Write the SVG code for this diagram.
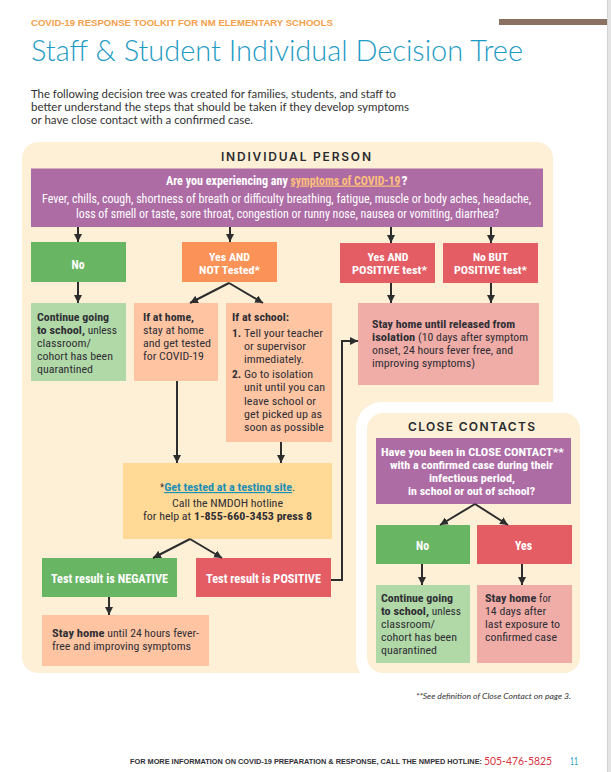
<svg xmlns="http://www.w3.org/2000/svg" width="611" height="772" viewBox="0 0 611 772">
<defs>
<style>
.b{font-family:"Roboto Condensed","Liberation Sans Narrow","Liberation Sans",Arial,sans-serif;font-size:11.5px;fill:#2f2f35}
.w{fill:#fff}
.bo{font-weight:700}
.c{text-anchor:middle}
.l{font-size:12.5px}
.hd{font-family:Inter,"Liberation Sans",Arial,sans-serif;font-weight:600;font-size:12px;fill:#2a2a2e;text-anchor:middle}
.ln{stroke:#2d2d2d;stroke-width:2;fill:none}
.purple{fill:#ae6ca5}
.green{fill:#68b563}
.lgreen{fill:#b1d9a7}
.orange{fill:#fb9257}
.red{fill:#e45d64}
.pink{fill:#f0aca7}
.peach{fill:#ffc5a3}
.yellow{fill:#ffd995}
.cream{fill:#fdf0d6}
</style>
<marker id="ah" viewBox="0 0 10 10" refX="10" refY="5" markerWidth="8" markerHeight="8" markerUnits="userSpaceOnUse" orient="auto"><path d="M0,0 L10,5 L0,10 z" fill="#2d2d2d"/></marker>
</defs>
<rect x="0" y="0" width="611" height="772" fill="#fff"/>
<rect x="607" y="0" width="4" height="772" fill="#e4e4e4"/>
<rect x="607" y="0" width="1" height="772" fill="#d2d2d2"/>
<rect x="499" y="19" width="108" height="6" fill="#8a7160"/>
<text x="31" y="25.5" font-family="'Liberation Sans',Arial,sans-serif" font-weight="700" font-size="8.5" fill="#f5a04a" textLength="302" lengthAdjust="spacingAndGlyphs">COVID-19 RESPONSE TOOLKIT FOR NM ELEMENTARY SCHOOLS</text>
<text x="31" y="61" font-family="Lato,'Open Sans',sans-serif" font-weight="300" font-size="29" fill="#1d9bc4" textLength="492" lengthAdjust="spacingAndGlyphs">Staff &amp; Student Individual Decision Tree</text>
<g font-family="Lato,'Open Sans',sans-serif" font-size="10.5" fill="#333">
<text x="31" y="98" textLength="365" lengthAdjust="spacingAndGlyphs">The following decision tree was created for families, students, and staff to</text>
<text x="31" y="111" textLength="378" lengthAdjust="spacingAndGlyphs">better understand the steps that should be taken if they develop symptoms</text>
<text x="31" y="124" textLength="222" lengthAdjust="spacingAndGlyphs">or have close contact with a confirmed case.</text>
</g>
<g id="panel-individual">
<rect class="cream" x="22" y="142" width="531" height="531" rx="16"/>
<text class="hd" x="296" y="160.5" textLength="150" lengthAdjust="spacing">INDIVIDUAL PERSON</text>
</g>
<g id="panel-close">
<rect x="356" y="402" width="236" height="283" rx="26" fill="#fff"/>
<rect class="cream" x="367" y="413" width="213" height="260" rx="16"/>
<text class="hd" x="471.5" y="430.5" textLength="127" lengthAdjust="spacing">CLOSE CONTACTS</text>
</g>
<g id="q-symptoms">
<rect class="purple" x="31" y="168.5" width="512" height="58.5"/>
<text class="b l w bo" x="166" y="184.5" textLength="121.8" lengthAdjust="spacingAndGlyphs">Are you experiencing any</text>
<text class="b l bo" x="290.5" y="184.5" style="fill:#fcc07c" text-decoration="underline" textLength="110" lengthAdjust="spacingAndGlyphs">symptoms of COVID-19</text>
<text class="b l w bo" x="401.5" y="184.5" textLength="6" lengthAdjust="spacingAndGlyphs">?</text>
<text class="b w c" x="286.5" y="203" style="font-size:12px" textLength="489" lengthAdjust="spacingAndGlyphs">Fever, chills, cough, shortness of breath or difficulty breathing, fatigue, muscle or body aches, headache,</text>
<text class="b w c" x="287.5" y="217.5" style="font-size:12px" textLength="423" lengthAdjust="spacingAndGlyphs">loss of smell or taste, sore throat, congestion or runny nose, nausea or vomiting, diarrhea?</text>
</g>
<g id="n-no">
<rect class="green" x="31" y="242" width="95" height="40"/>
<text class="b l w bo c" x="78" y="268.5" textLength="13" lengthAdjust="spacingAndGlyphs">No</text>
</g>
<g id="n-yes-not-tested">
<rect class="orange" x="182" y="242" width="95" height="40"/>
<text class="b w bo c" x="229.5" y="261" textLength="41" lengthAdjust="spacingAndGlyphs">Yes AND</text>
<text class="b w bo c" x="229.5" y="274" textLength="61" lengthAdjust="spacingAndGlyphs">NOT Tested*</text>
</g>
<g id="n-yes-positive">
<rect class="red" x="340" y="243" width="95" height="40"/>
<text class="b w bo c" x="388" y="261" textLength="41" lengthAdjust="spacingAndGlyphs">Yes AND</text>
<text class="b w bo c" x="389.5" y="274" textLength="75" lengthAdjust="spacingAndGlyphs">POSITIVE test*</text>
</g>
<g id="n-no-positive">
<rect class="red" x="443" y="243" width="95" height="40"/>
<text class="b w bo c" x="490.5" y="261" textLength="35" lengthAdjust="spacingAndGlyphs">No BUT</text>
<text class="b w bo c" x="490.5" y="274" textLength="73" lengthAdjust="spacingAndGlyphs">POSITIVE test*</text>
</g>
<g id="n-continue">
<rect class="lgreen" x="31" y="303" width="95" height="78"/>
<text class="b bo" x="37" y="321" textLength="72" lengthAdjust="spacingAndGlyphs">Continue going</text>
<text class="b bo" x="37" y="334" textLength="47.9" lengthAdjust="spacingAndGlyphs">to school,</text>
<text class="b" x="87.7" y="334" textLength="29.3" lengthAdjust="spacingAndGlyphs">unless</text>
<text class="b" x="37" y="347" textLength="54" lengthAdjust="spacingAndGlyphs">classroom/</text>
<text class="b" x="37" y="360" textLength="76" lengthAdjust="spacingAndGlyphs">cohort has been</text>
<text class="b" x="37" y="373" textLength="56" lengthAdjust="spacingAndGlyphs">quarantined</text>
</g>
<g id="n-at-home">
<rect class="peach" x="134" y="303" width="84" height="78"/>
<text class="b bo" x="143" y="321" textLength="51" lengthAdjust="spacingAndGlyphs">If at home,</text>
<text class="b" x="143" y="334" textLength="61" lengthAdjust="spacingAndGlyphs">stay at home</text>
<text class="b" x="143" y="347" textLength="68" lengthAdjust="spacingAndGlyphs">and get tested</text>
<text class="b" x="143" y="360" textLength="61" lengthAdjust="spacingAndGlyphs">for COVID-19</text>
</g>
<g id="n-at-school">
<rect class="peach" x="226" y="303" width="106" height="139"/>
<text class="b bo" x="232" y="321" textLength="57" lengthAdjust="spacingAndGlyphs">If at school:</text>
<text class="b bo" x="232" y="337">1.</text>
<text class="b" x="244" y="337" textLength="79" lengthAdjust="spacingAndGlyphs">Tell your teacher</text>
<text class="b" x="244" y="350" textLength="62" lengthAdjust="spacingAndGlyphs">or supervisor</text>
<text class="b" x="244" y="363" textLength="60" lengthAdjust="spacingAndGlyphs">immediately.</text>
<text class="b bo" x="232" y="378">2.</text>
<text class="b" x="244" y="378" textLength="69" lengthAdjust="spacingAndGlyphs">Go to isolation</text>
<text class="b" x="244" y="391" textLength="81" lengthAdjust="spacingAndGlyphs">unit until you can</text>
<text class="b" x="244" y="404.5" textLength="72" lengthAdjust="spacingAndGlyphs">leave school or</text>
<text class="b" x="244" y="417.5" textLength="78" lengthAdjust="spacingAndGlyphs">get picked up as</text>
<text class="b" x="244" y="430.5" textLength="80" lengthAdjust="spacingAndGlyphs">soon as possible</text>
</g>
<g id="n-isolation">
<rect class="pink" x="358" y="303" width="181" height="82"/>
<text class="b bo" x="372" y="328" textLength="143" lengthAdjust="spacingAndGlyphs">Stay home until released from</text>
<text class="b bo" x="372" y="341" textLength="43.2" lengthAdjust="spacingAndGlyphs">isolation</text>
<text class="b" x="418.1" y="341" textLength="109.9" lengthAdjust="spacingAndGlyphs">(10 days after symptom</text>
<text class="b" x="372" y="354" textLength="141" lengthAdjust="spacingAndGlyphs">onset, 24 hours fever free, and</text>
<text class="b" x="372" y="367" textLength="103" lengthAdjust="spacingAndGlyphs">improving symptoms)</text>
</g>
<g id="n-testing">
<rect class="yellow" x="123" y="463" width="209" height="76"/>
<text class="b" x="160" y="491" textLength="4" lengthAdjust="spacingAndGlyphs">*</text>
<text class="b bo" x="164.2" y="491" style="fill:#1b8fb5" text-decoration="underline" textLength="127.9" lengthAdjust="spacingAndGlyphs">Get tested at a testing site</text>
<text class="b" x="292.3" y="491" textLength="2.8" lengthAdjust="spacingAndGlyphs">.</text>
<text class="b c" x="227.5" y="506.5" textLength="111" lengthAdjust="spacingAndGlyphs">Call the NMDOH hotline</text>
<text class="b" x="143" y="520" textLength="48.1" lengthAdjust="spacingAndGlyphs">for help at</text>
<text class="b bo" x="194.1" y="520" textLength="117.9" lengthAdjust="spacingAndGlyphs">1-855-660-3453 press 8</text>
</g>
<g id="n-negative">
<rect class="green" x="42" y="558" width="135" height="39"/>
<text class="b l w bo c" x="109.5" y="582.5" textLength="117" lengthAdjust="spacingAndGlyphs">Test result is NEGATIVE</text>
</g>
<g id="n-positive">
<rect class="red" x="196" y="558" width="135" height="39"/>
<text class="b l w bo c" x="263.5" y="582.5" textLength="115" lengthAdjust="spacingAndGlyphs">Test result is POSITIVE</text>
</g>
<g id="n-stay-24">
<rect class="peach" x="42" y="615" width="167" height="51"/>
<text class="b bo" x="52" y="637" textLength="52.5" lengthAdjust="spacingAndGlyphs">Stay home</text>
<text class="b" x="107.3" y="637" textLength="91.7" lengthAdjust="spacingAndGlyphs">until 24 hours fever-</text>
<text class="b" x="52" y="650" textLength="139" lengthAdjust="spacingAndGlyphs">free and improving symptoms</text>
</g>
<g id="q-close">
<rect class="purple" x="376" y="438" width="195" height="66"/>
<text class="b w bo c" x="472.5" y="456" textLength="183" lengthAdjust="spacingAndGlyphs">Have you been in CLOSE CONTACT**</text>
<text class="b w bo c" x="471.5" y="469" textLength="163" lengthAdjust="spacingAndGlyphs">with a confirmed case during their</text>
<text class="b w bo c" x="472" y="482" textLength="86" lengthAdjust="spacingAndGlyphs">infectious period,</text>
<text class="b w bo c" x="471.5" y="495" textLength="127" lengthAdjust="spacingAndGlyphs">in school or out of school?</text>
</g>
<g id="c-no">
<rect class="green" x="376" y="525" width="94" height="39"/>
<text class="b l w bo c" x="422.5" y="550" textLength="13" lengthAdjust="spacingAndGlyphs">No</text>
</g>
<g id="c-yes">
<rect class="red" x="477" y="525" width="95" height="39"/>
<text class="b l w bo c" x="523.5" y="550" textLength="17" lengthAdjust="spacingAndGlyphs">Yes</text>
</g>
<g id="c-continue">
<rect class="lgreen" x="376" y="585" width="94" height="78"/>
<text class="b bo" x="381" y="602" textLength="72" lengthAdjust="spacingAndGlyphs">Continue going</text>
<text class="b bo" x="381" y="615" textLength="47.9" lengthAdjust="spacingAndGlyphs">to school,</text>
<text class="b" x="431.7" y="615" textLength="29.3" lengthAdjust="spacingAndGlyphs">unless</text>
<text class="b" x="381" y="628" textLength="54" lengthAdjust="spacingAndGlyphs">classroom/</text>
<text class="b" x="381" y="641" textLength="76" lengthAdjust="spacingAndGlyphs">cohort has been</text>
<text class="b" x="381" y="654" textLength="56" lengthAdjust="spacingAndGlyphs">quarantined</text>
</g>
<g id="c-stay-14">
<rect class="pink" x="477" y="585" width="95" height="78"/>
<text class="b bo" x="485" y="602" textLength="51.3" lengthAdjust="spacingAndGlyphs">Stay home</text>
<text class="b" x="539.1" y="602" textLength="11.8" lengthAdjust="spacingAndGlyphs">for</text>
<text class="b" x="485" y="615" textLength="61" lengthAdjust="spacingAndGlyphs">14 days after</text>
<text class="b" x="485" y="628" textLength="75" lengthAdjust="spacingAndGlyphs">last exposure to</text>
<text class="b" x="485" y="641" textLength="72" lengthAdjust="spacingAndGlyphs">confirmed case</text>
</g>
<g id="connectors" class="ln" marker-end="url(#ah)">
<path d="M78,227 V242"/>
<path d="M230,227 V242"/>
<path d="M391,227 V243"/>
<path d="M491,227 V243"/>
<path d="M78,282 V303"/>
<path d="M229,283 L190,303"/>
<path d="M229,283 L263,303"/>
<path d="M391,283 V303"/>
<path d="M491,283 V303"/>
<path d="M177,381 V463"/>
<path d="M281,442 V463"/>
<path d="M190,539 L153,558"/>
<path d="M190,539 L222,558"/>
<path d="M109,597 V615"/>
<path d="M331,580 H342 V341 H358"/>
<path d="M475,504 L440,525"/>
<path d="M475,504 L508,525"/>
<path d="M422,564 V585"/>
<path d="M522,564 V585"/>
</g>
<text x="416" y="698.5" font-family="Lato,'Open Sans',sans-serif" font-style="italic" font-size="7.5" fill="#333" textLength="155" lengthAdjust="spacingAndGlyphs">**See definition of Close Contact on page 3.</text>
<text x="130" y="763.5" font-family="'Liberation Sans',Arial,sans-serif" font-weight="700" font-size="7" fill="#2f2f35" textLength="352" lengthAdjust="spacingAndGlyphs">FOR MORE INFORMATION ON COVID-19 PREPARATION &amp; RESPONSE, CALL THE NMPED HOTLINE:</text>
<text x="484" y="764.5" font-family="Lato,'Open Sans',sans-serif" font-size="11.5" fill="#d9343f" textLength="68" lengthAdjust="spacingAndGlyphs">505-476-5825</text>
<text x="570" y="764.5" font-family="Lato,'Open Sans',sans-serif" font-size="11.5" fill="#1d9bc4" textLength="8" lengthAdjust="spacingAndGlyphs">11</text>
</svg>
